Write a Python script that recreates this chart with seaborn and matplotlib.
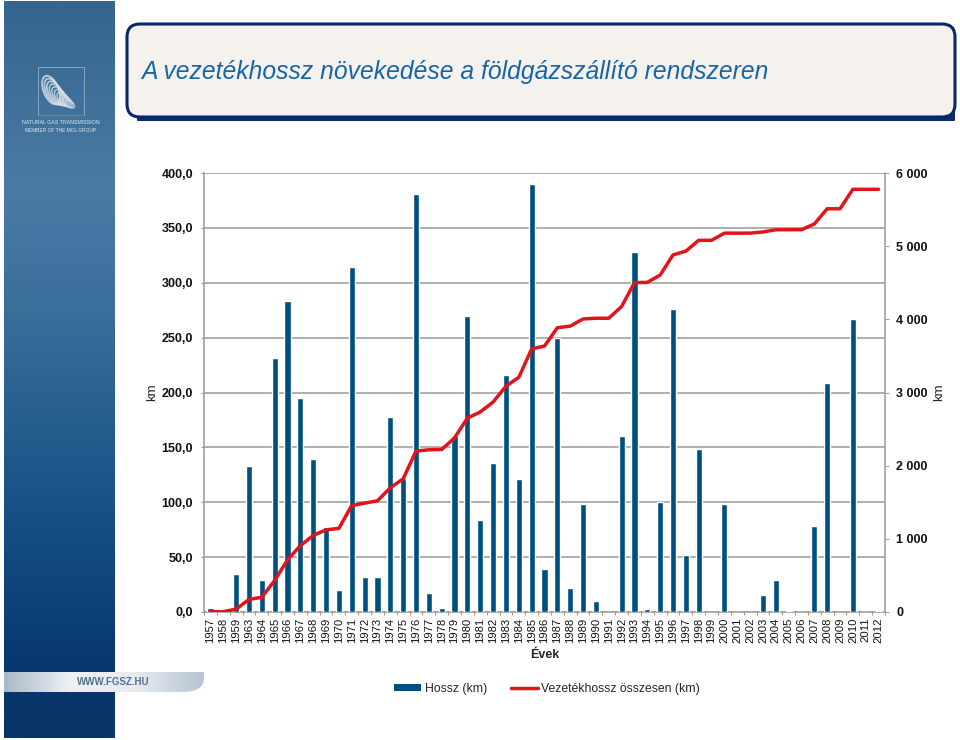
import numpy as np
import pandas as pd
import matplotlib
matplotlib.use("Agg")
import matplotlib.pyplot as plt
from matplotlib.colors import LinearSegmentedColormap
from matplotlib.patches import FancyBboxPatch, Rectangle, Ellipse, PathPatch
from matplotlib.path import Path
from matplotlib.lines import Line2D
import seaborn as sns

years = ["1957", "1958", "1959", "1963", "1964", "1965", "1966", "1967", "1968", "1969",
         "1970", "1971", "1972", "1973", "1974", "1975", "1976", "1977", "1978", "1979",
         "1980", "1981", "1982", "1983", "1984", "1985", "1986", "1987", "1988", "1989",
         "1990", "1991", "1992", "1993", "1994", "1995", "1996", "1997", "1998", "1999",
         "2000", "2001", "2002", "2003", "2004", "2005", "2006", "2007", "2008", "2009",
         "2010", "2011", "2012"]
hossz = [4, 0, 35, 133, 29, 231, 283, 195, 139.5, 77,
         20, 314, 32, 32, 178, 122, 381, 17, 4, 160,
         270, 84, 136, 216, 121, 390, 39, 250, 22, 98,
         10, 0, 160, 328, 3, 100, 276, 52, 148.5, 0,
         98.5, 0, 0, 15.5, 29.5, 1, 0, 78, 209, 0,
         267, 0, 0.5]
osszesen = [4, 4, 39, 172, 201, 431, 713, 907, 1046, 1123,
            1143, 1456, 1488, 1520, 1698, 1820, 2200, 2217, 2221, 2380,
            2650, 2734, 2870, 3086, 3207, 3596, 3635, 3885, 3907, 4005,
            4015, 4015, 4175, 4502, 4505, 4605, 4880, 4932, 5080, 5080,
            5178, 5178, 5178, 5194, 5224, 5225, 5225, 5303, 5511, 5511,
            5777, 5777, 5777]
left_ticks = [0, 50, 100, 150, 200, 250, 300, 350, 400]
left_labels = ["0,0", "50,0", "100,0", "150,0", "200,0", "250,0", "300,0", "350,0", "400,0"]
right_ticks = [0, 1000, 2000, 3000, 4000, 5000, 6000]
right_labels = ["0", "1 000", "2 000", "3 000", "4 000", "5 000", "6 000"]

W, H = 960, 740
sns.set_theme(style="white")
FONT = ["Liberation Sans", "DejaVu Sans"]
plt.rcParams["font.family"] = FONT
fig = plt.figure(figsize=(9.6, 7.4), dpi=100, facecolor="white")

# page-space overlay in pixel coordinates
bg = fig.add_axes([0, 0, 1, 1], zorder=0)
bg.set_xlim(0, W); bg.set_ylim(H, 0); bg.axis("off")

cmap = LinearSegmentedColormap.from_list("panel", [
    (0.00, "#34658f"), (0.25, "#4a7ba5"), (0.42, "#3a6f9b"), (0.55, "#286090"),
    (0.75, "#124a80"), (0.90, "#07386e"), (1.00, "#0a3468")])
bg.imshow(np.linspace(0, 1, 256).reshape(-1, 1), cmap=cmap, aspect="auto",
          extent=(4, 115, 738, 1), zorder=1)
bg.set_xlim(0, W); bg.set_ylim(H, 0)

# logo
bg.plot([38, 38, 84, 84], [115, 67, 67, 115], color="#86a5c1", lw=0.7, zorder=2)
bg.plot([38, 84], [115, 115], color="#5f88ab", lw=0.7, zorder=2)
for i in range(10):
    t = i / 9
    bg.add_patch(Ellipse((51 + 19 * t, 90 + 14 * t), 15 - 9 * t, 30 - 19 * t,
                         angle=-22 - 28 * t, fill=False, ec="#d5dfe8", lw=1.4 - 0.6 * t,
                         alpha=0.8, zorder=3))
bg.text(60.5, 122, "NATURAL GAS TRANSMISSION", color="#dde6ee", fontsize=3.75,
        ha="center", va="center", zorder=3)
bg.text(61, 130, "MEMBER OF THE MOL GROUP", color="#dde6ee", fontsize=3.55,
        ha="center", va="center", zorder=3)

# band with url
verts = [(4, 672), (204, 672), (204, 678), (204, 692), (182, 692), (4, 692), (4, 672)]
codes = [Path.MOVETO, Path.LINETO, Path.LINETO, Path.CURVE3, Path.CURVE3, Path.LINETO, Path.CLOSEPOLY]
band = PathPatch(Path(verts, codes), fc="none", ec="none", zorder=2)
bg.add_patch(band)
bcmap = LinearSegmentedColormap.from_list("band", ["#a9b9c8", "#eef1f4", "#e6ebef", "#b6c4d1"])
img = bg.imshow(np.linspace(0, 1, 256).reshape(1, -1), cmap=bcmap, aspect="auto",
                extent=(4, 204, 692, 672), zorder=2)
img.set_clip_path(band)
bg.set_xlim(0, W); bg.set_ylim(H, 0)
bg.text(113.5, 682, "WWW.FGSZ.HU", color="#51708f", fontsize=7, fontweight="bold",
        ha="center", va="center", zorder=3)

# title box
bg.add_patch(FancyBboxPatch((137, 40), 818, 81, boxstyle="round,pad=0,rounding_size=1",
                            fc="#0b2f6b", ec="none", zorder=2))
bg.add_patch(FancyBboxPatch((127, 24), 828, 93, boxstyle="round,pad=0,rounding_size=13",
                            fc="#f5f2ee", ec="#08276b", lw=2.2, zorder=3))
bg.text(141.5, 72, "A vezetékhossz növekedése a földgázszállító rendszeren", color="#1665a8",
        fontsize=17.7, style="italic", ha="left", va="center", zorder=4)

# chart
df = pd.DataFrame({"Év": years, "Hossz": hossz, "Összesen": osszesen})
ax = fig.add_axes([204 / W, 1 - 612 / H, (885 - 204) / W, (612 - 173) / H], zorder=2)
ax.patch.set_alpha(0)
sns.barplot(data=df, x="Év", y="Hossz", color="#00507f", saturation=1, width=0.48, ax=ax, zorder=3)
ax.set_xlim(-0.5, len(years) - 0.5)
ax.set_ylim(0, 400)
ax.set_yticks(left_ticks, left_labels, fontsize=9, fontweight="bold", color="#111111")
ax.grid(axis="y", color="#999999", lw=1.1, zorder=1)
ax.set_axisbelow(True)
ax.tick_params(axis="x", which="major", length=0, pad=4, labelsize=8.1, labelrotation=90, colors="#111111")
ax.set_xticks(np.arange(-0.5, len(years)), minor=True)
ax.tick_params(axis="x", which="minor", length=2, width=0.6, color="#b87a3c", bottom=True)
ax.tick_params(axis="y", length=2.2, width=0.8, color="#999999", left=True, pad=5.8)
for s in ["top", "right"]:
    ax.spines[s].set_visible(False)
for s in ["left", "bottom"]:
    ax.spines[s].set_color("#999999")
    ax.spines[s].set_linewidth(1.1)
ax.set_xlabel("Évek", fontsize=9, fontweight="bold", labelpad=4.5)
ax.set_ylabel("km", fontsize=9.5, labelpad=2)

ax2 = ax.twinx()
ax2.patch.set_alpha(0)
sns.lineplot(data=df, x="Év", y="Összesen", color="#e1141c", lw=2.5, sort=False, ax=ax2, zorder=5)
ax2.set_ylim(0, 6000)
ax2.set_yticks(right_ticks, right_labels, fontsize=9, fontweight="bold", color="#111111")
ax2.tick_params(axis="y", length=2.6, width=0.7, color="#999999", right=True, pad=5.4)
for l in ax2.get_yticklabels():
    l.set_ha("left")
for s in ["top", "left", "bottom"]:
    ax2.spines[s].set_visible(False)
ax2.spines["right"].set_visible(True)
ax2.spines["right"].set_color("#999999")
ax2.spines["right"].set_linewidth(1.1)
ax2.set_ylabel("km", fontsize=9.5, labelpad=4)
ax2.set_xlabel("")

handles = [Rectangle((0, 0), 1, 1, fc="#00507f", ec="none"),
           Line2D([0], [0], color="#e1141c", lw=2.5)]
fig.legend(handles, ["Hossz (km)", "Vezetékhossz összesen (km)"], ncol=2, frameon=False,
           loc="center", bbox_to_anchor=(547 / W, 1 - 689 / H), fontsize=8.85,
           handlelength=2.2, handleheight=0.45, handletextpad=0.3, columnspacing=1.95)

fig.savefig("out.png", dpi=100)
